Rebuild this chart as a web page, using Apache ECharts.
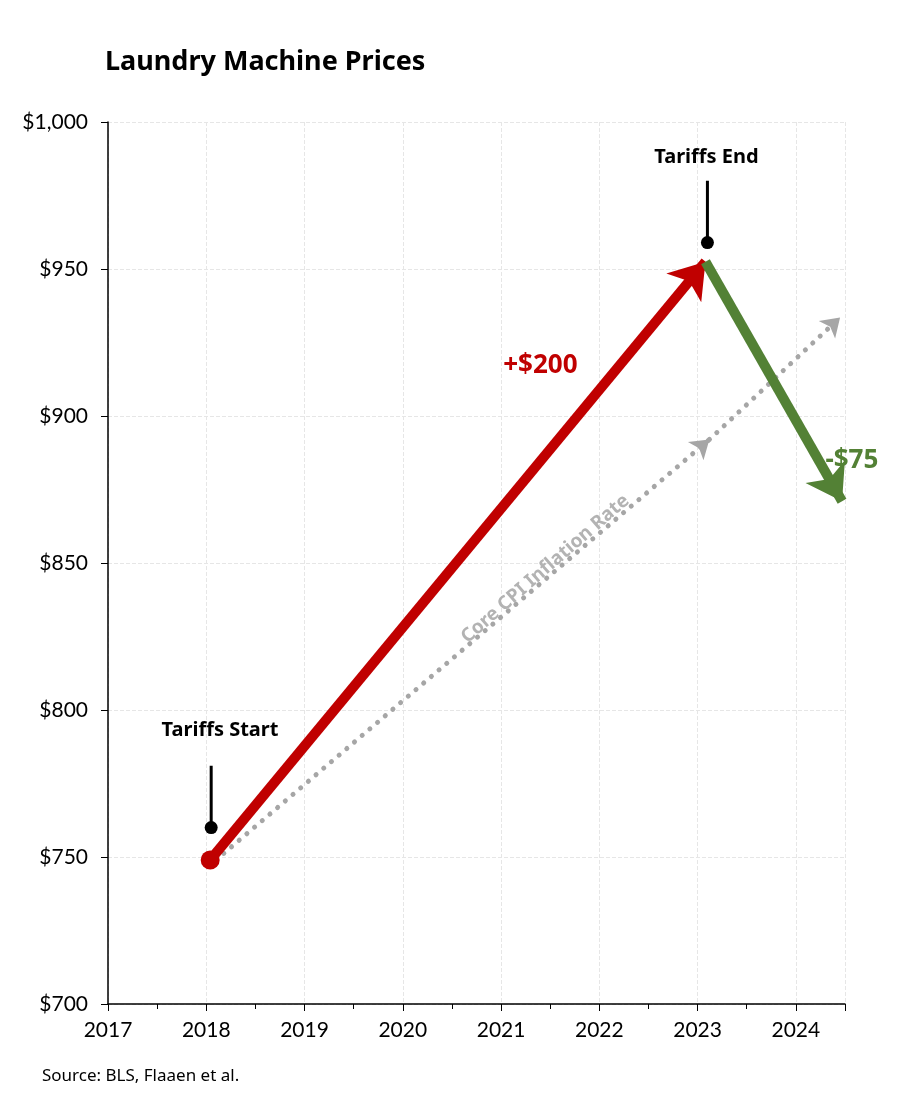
<!DOCTYPE html>
<html><head><meta charset="utf-8">
<script src="https://cdn.jsdelivr.net/npm/echarts@6/dist/echarts.min.js"></script>
<style>body{margin:0;background:#fff}#c{width:900px;height:1095px}</style>
</head><body><div id="c"></div>
<script>
const yTicks = [700, 750, 800, 850, 900, 950, 1000];
const xYears = [2017, 2018, 2019, 2020, 2021, 2022, 2023, 2024];
const tariffPath = [[2018.04, 749], [2023.08, 952.5]];
const dropPath = [[2023.08, 952.5], [2024.47, 871]];
const cpiPath1 = [[2018.1, 749], [2023.12, 892]];
const cpiPath2 = [[2023.12, 892], [2024.45, 933.5]];
const startPoint = [2018.04, 749];
const markerStart = [[2018.05, 781], [2018.05, 760]];
const markerEnd = [[2023.1, 980], [2023.1, 959]];
const labels = [
  {name: 'Tariffs Start', value: [2018.14, 793], color: '#000', size: 20},
  {name: 'Tariffs End', value: [2023.09, 988], color: '#000', size: 20},
  {name: '+$200', value: [2021.4, 917], color: '#c00000', size: 26},
  {name: '-$75', value: [2024.57, 885], color: '#538135', size: 26}
];
const cpiLabel = [2021.45, 848];

const font = 'Lato, "Noto Sans", sans-serif';
function seg(data, color, width, type, symSize, cap) {
  return {type: 'lines', coordinateSystem: 'cartesian2d', polyline: false, z: 5,
    symbol: ['none', 'arrow'], symbolSize: symSize,
    lineStyle: {color, width, type, opacity: 1, cap: cap || 'butt'},
    data: [{coords: data}]};
}
const chart = echarts.init(document.getElementById('c'));
chart.setOption({
  animation: false,
  title: {text: 'Laundry Machine Prices', left: 100, top: 44,
    textStyle: {fontFamily: '"Noto Sans", sans-serif', fontWeight: 'bold', fontSize: 27, color: '#000'}},
  graphic: [{type: 'text', left: 42, top: 1068,
    style: {text: 'Source: BLS, Flaaen et al.', font: '17px "Noto Sans", sans-serif', fill: '#000'}}],
  grid: {left: 108, right: 55, top: 122, bottom: 91},
  xAxis: {type: 'value', min: 2017, max: 2024.5, interval: 1,
    axisLine: {lineStyle: {color: '#000', width: 1.5}},
    axisTick: {show: true, length: 7, lineStyle: {color: '#000'}},
    minorTick: {show: true, splitNumber: 2, length: 5, lineStyle: {color: '#000'}},
    axisLabel: {fontFamily: font, fontSize: 21, color: '#000', margin: 16,
      formatter: v => xYears.includes(v) ? String(v) : ''},
    splitLine: {show: true, lineStyle: {color: '#e6e6e6', type: 'dashed'}}},
  yAxis: {type: 'value', min: 700, max: 1000, interval: 50,
    axisLine: {show: true, lineStyle: {color: '#000', width: 1.5}},
    axisTick: {show: true, length: 7, lineStyle: {color: '#000'}},
    axisLabel: {fontFamily: font, fontSize: 21, color: '#000', margin: 20,
      formatter: v => '$' + v.toLocaleString('en-US')},
    splitLine: {show: true, lineStyle: {color: '#e6e6e6', type: 'dashed'}}},
  series: [
    seg(cpiPath1, '#a6a6a6', 5, [0.1, 10], 18, 'round'),
    seg(cpiPath2, '#a6a6a6', 5, [0.1, 10], 18, 'round'),
    seg(tariffPath, '#c00000', 10, 'solid', 34),
    seg(dropPath, '#538135', 10, 'solid', 34),
    {type: 'line', data: markerStart, showSymbol: false, lineStyle: {color: '#000', width: 3}, z: 6},
    {type: 'line', data: markerEnd, showSymbol: false, lineStyle: {color: '#000', width: 3}, z: 6},
    {type: 'scatter', data: [markerStart[1], markerEnd[1]], symbolSize: 13,
      itemStyle: {color: '#000', opacity: 1}, z: 6},
    {type: 'scatter', data: [startPoint], symbolSize: 19, itemStyle: {color: '#c00000', opacity: 1}, z: 7},
    {type: 'scatter', symbolSize: 1, z: 8, clip: false, itemStyle: {opacity: 0},
      data: labels.map(l => ({value: l.value, label: {show: true, formatter: l.name, color: l.color,
        fontSize: l.size, fontWeight: 'bold', fontFamily: '"Noto Sans", sans-serif'}})),
      label: {show: true, position: 'inside', opacity: 1}},
    {type: 'scatter', symbolSize: 1, z: 8, itemStyle: {opacity: 0},
      data: [{value: cpiLabel}],
      label: {show: true, position: 'inside', formatter: 'Core CPI Inflation Rate', rotate: 41, opacity: 1,
        color: '#b3b3b3', fontSize: 19, fontWeight: 'bold', fontFamily: '"Noto Sans", sans-serif'}}
  ]
});
</script></body></html>
